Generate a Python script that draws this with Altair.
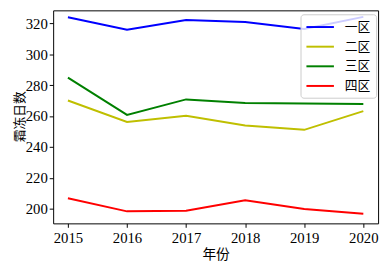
import altair as alt
import pandas as pd

years = [2015, 2016, 2017, 2018, 2019, 2020]
regions = ["一区", "二区", "三区", "四区"]
colors = ["#0000ff", "#bfbf00", "#008000", "#ff0000"]
zone1 = [324, 316, 322.3, 321, 316.4, 324.3]
zone2 = [270.1, 256.2, 260.2, 253.9, 251.1, 263.2]
zone3 = [284.9, 260.8, 270.8, 268.5, 268.1, 267.8]
zone4 = [206.8, 198.3, 198.7, 205.5, 199.8, 196.8]
yticks = [200, 220, 240, 260, 280, 300, 320]

rows = []
for name, vals in zip(regions, [zone1, zone2, zone3, zone4]):
    for yr, v in zip(years, vals):
        rows.append({"年份": yr, "区": name, "霜冻日数": v})
df = pd.DataFrame(rows)

serif = "Liberation Serif"
cjk = "Noto Sans CJK SC"

chart = alt.Chart(df).mark_line(strokeWidth=2, clip=True).encode(
    x=alt.X("年份:Q",
            scale=alt.Scale(domain=[2014.75, 2020.25], nice=False, zero=False),
            axis=alt.Axis(values=years, format="d", title="年份", grid=False,
                          labelFont=serif, labelFontSize=15, labelColor="black",
                          titleFont=cjk, titleFontSize=14, titleFontWeight="normal",
                          titleColor="black", titlePadding=3,
                          tickColor="black", tickSize=4, domain=False, labelPadding=3)),
    y=alt.Y("霜冻日数:Q",
            scale=alt.Scale(domain=[190.5, 328.5], nice=False, zero=False),
            axis=alt.Axis(values=yticks, title="霜冻日数", grid=False,
                          labelFont=serif, labelFontSize=15, labelColor="black",
                          titleFont=cjk, titleFontSize=13, titleFontWeight="normal",
                          titleColor="black", titleX=-34, titleY=108,
                          titleAlign="center", titleBaseline="middle", titleAngle=270,
                          tickColor="black", tickSize=4, domain=False, labelPadding=2)),
    color=alt.Color("区:N",
                    scale=alt.Scale(domain=regions, range=colors),
                    sort=regions,
                    legend=alt.Legend(title=None, orient="none", legendX=252, legendY=4,
                                      symbolType="M-2,0H2", symbolSize=196,
                                      symbolStrokeWidth=2, symbolOffset=7,
                                      labelOffset=17, labelFont=cjk, labelFontSize=13,
                                      labelColor="black", rowPadding=5, padding=5,
                                      strokeColor="#cccccc", cornerRadius=3,
                                      fillColor="rgba(255,255,255,0.8)")),
).properties(
    width=331, height=217,
    autosize=alt.AutoSizeParams(type="none"),
    padding={"left": 46, "top": 0, "right": 5, "bottom": 40},
).configure_view(stroke="black", strokeWidth=1)

chart.save("out.html", embed_options={"renderer": "svg", "actions": False})
